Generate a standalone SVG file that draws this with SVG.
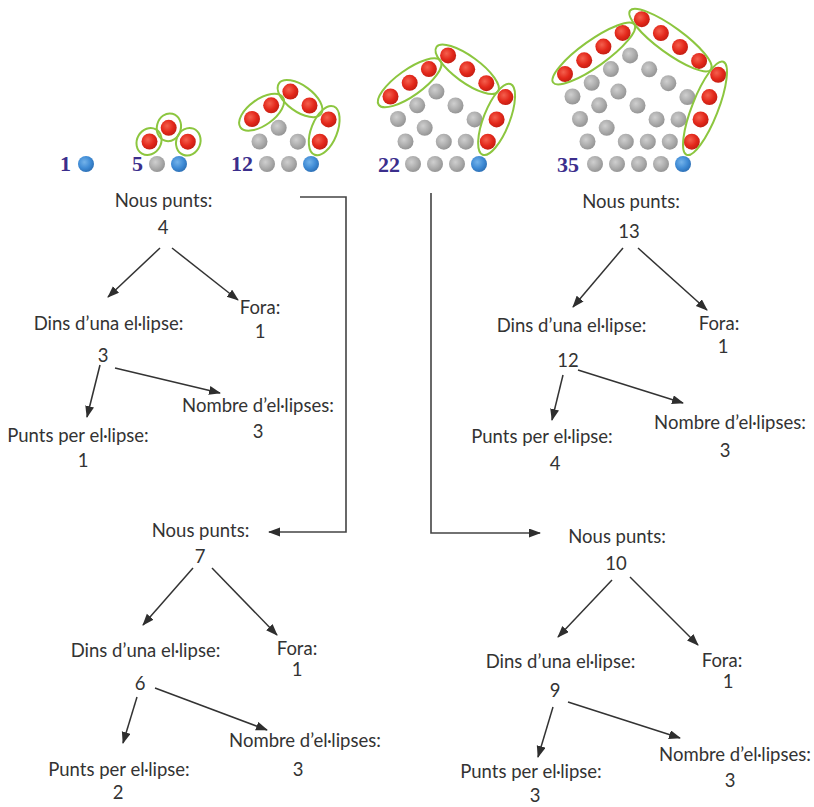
<svg xmlns="http://www.w3.org/2000/svg" width="814" height="807" viewBox="0 0 814 807">
<defs>
<radialGradient id="gr" cx="0.4" cy="0.38" r="0.65"><stop offset="0" stop-color="#f4604e"/><stop offset="0.6" stop-color="#e3281b"/><stop offset="1" stop-color="#c21d12"/></radialGradient>
<radialGradient id="gg" cx="0.4" cy="0.38" r="0.65"><stop offset="0" stop-color="#cfcfcf"/><stop offset="0.6" stop-color="#acacac"/><stop offset="1" stop-color="#939393"/></radialGradient>
<radialGradient id="gb" cx="0.4" cy="0.38" r="0.65"><stop offset="0" stop-color="#74b3ea"/><stop offset="0.6" stop-color="#3f8bd5"/><stop offset="1" stop-color="#2c6fb5"/></radialGradient>
<marker id="ah" markerUnits="userSpaceOnUse" markerWidth="12" markerHeight="10" refX="11" refY="4.5" orient="auto"><path d="M0,0 L12,4.5 L0,9 Z" fill="#2e2e2e"/></marker>
<style>
.r{fill:url(#gr)}.g{fill:url(#gg)}.b{fill:url(#gb)}
circle{r:8px}
.el{fill:none;stroke:#8cc63f;stroke-width:2}
.num{font-family:"Liberation Serif",serif;font-weight:bold;font-size:22px;fill:#3b2e8c;text-anchor:end}
.t{font-family:Lato,"Open Sans",sans-serif;font-size:18.5px;fill:#333;text-anchor:middle}
.c{fill:none;stroke:#333;stroke-width:1.5}
.k{fill:none;stroke:#444;stroke-width:1.6}
</style>
</defs>
<rect width="814" height="807" fill="#fff"/>

<g id="fig1">
<text class="num" x="71" y="171">1</text>
<circle class="b" cx="86" cy="164" r="8"/>
</g>

<g id="fig5">
<text class="num" x="143" y="171">5</text>
<circle class="g" cx="157" cy="164" r="8"/>
<circle class="b" cx="179" cy="164" r="8"/>
<circle class="r" cx="187.8" cy="141.7" r="8"/>
<circle class="r" cx="168.7" cy="127.8" r="8"/>
<circle class="r" cx="149.5" cy="141.5" r="8"/>
<ellipse class="el" cx="188.3" cy="141.7" rx="14" ry="12" transform="rotate(-68.5 188.3 141.7)"/>
<ellipse class="el" cx="168.9" cy="127.3" rx="14" ry="12" transform="rotate(-75 168.9 127.3)"/>
<ellipse class="el" cx="149" cy="141.5" rx="14" ry="12" transform="rotate(-60 149 141.5)"/>
</g>

<g id="fig12">
<text class="num" x="253" y="171">12</text>
<circle class="g" cx="267" cy="164" r="8"/>
<circle class="g" cx="289" cy="164" r="8"/>
<circle class="g" cx="297.8" cy="141.7" r="8"/>
<circle class="g" cx="278.7" cy="127.8" r="8"/>
<circle class="g" cx="259.5" cy="141.5" r="8"/>
<circle class="b" cx="311" cy="164" r="8"/>
<circle class="r" cx="319.8" cy="141.7" r="8"/>
<circle class="r" cx="328.6" cy="119.4" r="8"/>
<circle class="r" cx="309.5" cy="105.5" r="8"/>
<circle class="r" cx="290.4" cy="91.6" r="8"/>
<circle class="r" cx="271.2" cy="105.3" r="8"/>
<circle class="r" cx="252" cy="119" r="8"/>
<ellipse class="el" cx="324.2" cy="130.6" rx="26" ry="13" transform="rotate(-68.5 324.2 130.6)"/>
<ellipse class="el" cx="300" cy="98.6" rx="26" ry="13" transform="rotate(36 300 98.6)"/>
<ellipse class="el" cx="261.6" cy="112.2" rx="26" ry="13" transform="rotate(-35.5 261.6 112.2)"/>
</g>

<g id="fig22">
<text class="num" x="400" y="172">22</text>
<circle class="g" cx="413" cy="164" r="8"/>
<circle class="g" cx="435" cy="164" r="8"/>
<circle class="g" cx="443.8" cy="141.7" r="8"/>
<circle class="g" cx="424.7" cy="127.8" r="8"/>
<circle class="g" cx="405.5" cy="141.5" r="8"/>
<circle class="g" cx="457" cy="164" r="8"/>
<circle class="g" cx="465.8" cy="141.7" r="8"/>
<circle class="g" cx="474.6" cy="119.4" r="8"/>
<circle class="g" cx="455.5" cy="105.5" r="8"/>
<circle class="g" cx="436.4" cy="91.6" r="8"/>
<circle class="g" cx="417.2" cy="105.3" r="8"/>
<circle class="g" cx="398" cy="119" r="8"/>
<circle class="b" cx="479" cy="164" r="8"/>
<circle class="r" cx="487.8" cy="141.7" r="8"/>
<circle class="r" cx="496.6" cy="119.4" r="8"/>
<circle class="r" cx="505.4" cy="97.1" r="8"/>
<circle class="r" cx="486.3" cy="83.2" r="8"/>
<circle class="r" cx="467.2" cy="69.3" r="8"/>
<circle class="r" cx="448.1" cy="55.4" r="8"/>
<circle class="r" cx="428.9" cy="69.1" r="8"/>
<circle class="r" cx="409.7" cy="82.8" r="8"/>
<circle class="r" cx="390.5" cy="96.5" r="8"/>
<ellipse class="el" cx="496.6" cy="119.4" rx="38" ry="13" transform="rotate(-68.5 496.6 119.4)"/>
<ellipse class="el" cx="467.2" cy="69.3" rx="38" ry="13" transform="rotate(36 467.2 69.3)"/>
<ellipse class="el" cx="409.7" cy="82.8" rx="38" ry="13" transform="rotate(-35.5 409.7 82.8)"/>
</g>

<g id="fig35">
<text class="num" x="579" y="172">35</text>
<circle class="g" cx="595" cy="164" r="8"/>
<circle class="g" cx="617" cy="164" r="8"/>
<circle class="g" cx="625.8" cy="141.7" r="8"/>
<circle class="g" cx="606.7" cy="127.8" r="8"/>
<circle class="g" cx="587.5" cy="141.5" r="8"/>
<circle class="g" cx="639" cy="164" r="8"/>
<circle class="g" cx="647.8" cy="141.7" r="8"/>
<circle class="g" cx="656.6" cy="119.4" r="8"/>
<circle class="g" cx="637.5" cy="105.5" r="8"/>
<circle class="g" cx="618.4" cy="91.6" r="8"/>
<circle class="g" cx="599.2" cy="105.3" r="8"/>
<circle class="g" cx="580" cy="119" r="8"/>
<circle class="g" cx="661" cy="164" r="8"/>
<circle class="g" cx="669.8" cy="141.7" r="8"/>
<circle class="g" cx="678.6" cy="119.4" r="8"/>
<circle class="g" cx="687.4" cy="97.1" r="8"/>
<circle class="g" cx="668.3" cy="83.2" r="8"/>
<circle class="g" cx="649.2" cy="69.3" r="8"/>
<circle class="g" cx="630.1" cy="55.4" r="8"/>
<circle class="g" cx="610.9" cy="69.1" r="8"/>
<circle class="g" cx="591.7" cy="82.8" r="8"/>
<circle class="g" cx="572.5" cy="96.5" r="8"/>
<circle class="b" cx="683" cy="164" r="8"/>
<circle class="r" cx="691.8" cy="141.7" r="8"/>
<circle class="r" cx="700.6" cy="119.4" r="8"/>
<circle class="r" cx="709.4" cy="97.1" r="8"/>
<circle class="r" cx="718.2" cy="74.8" r="8"/>
<circle class="r" cx="699.1" cy="60.9" r="8"/>
<circle class="r" cx="680" cy="47" r="8"/>
<circle class="r" cx="660.9" cy="33.1" r="8"/>
<circle class="r" cx="641.8" cy="19.2" r="8"/>
<circle class="r" cx="622.6" cy="32.9" r="8"/>
<circle class="r" cx="603.4" cy="46.6" r="8"/>
<circle class="r" cx="584.2" cy="60.3" r="8"/>
<circle class="r" cx="565" cy="74" r="8"/>
<ellipse class="el" cx="705" cy="108.3" rx="50" ry="13" transform="rotate(-68.5 705 108.3)"/>
<ellipse class="el" cx="670.5" cy="40.1" rx="50" ry="13" transform="rotate(36 670.5 40.1)"/>
<ellipse class="el" cx="593.8" cy="53.5" rx="50" ry="13" transform="rotate(-35.5 593.8 53.5)"/>
</g>

<g id="connectors">
<polyline class="k" points="300,197 346,197 346,532 269,532" marker-end="url(#ah)"/>
<polyline class="k" points="431,193 431,533 540,533" marker-end="url(#ah)"/>
<line class="c" x1="160" y1="248" x2="108" y2="297" marker-end="url(#ah)"/>
<line class="c" x1="172" y1="248" x2="238" y2="300" marker-end="url(#ah)"/>
<line class="c" x1="100" y1="365" x2="87" y2="417" marker-end="url(#ah)"/>
<line class="c" x1="115" y1="368" x2="220" y2="393" marker-end="url(#ah)"/>
<line class="c" x1="193" y1="568" x2="143" y2="625" marker-end="url(#ah)"/>
<line class="c" x1="212" y1="568" x2="277" y2="635" marker-end="url(#ah)"/>
<line class="c" x1="137" y1="697" x2="123" y2="743" marker-end="url(#ah)"/>
<line class="c" x1="155" y1="688" x2="267" y2="730" marker-end="url(#ah)"/>
<line class="c" x1="623" y1="248" x2="573" y2="307" marker-end="url(#ah)"/>
<line class="c" x1="638" y1="248" x2="707" y2="310" marker-end="url(#ah)"/>
<line class="c" x1="563" y1="375" x2="552" y2="420" marker-end="url(#ah)"/>
<line class="c" x1="578" y1="370" x2="683" y2="403" marker-end="url(#ah)"/>
<line class="c" x1="612" y1="580" x2="558" y2="637" marker-end="url(#ah)"/>
<line class="c" x1="630" y1="577" x2="698" y2="645" marker-end="url(#ah)"/>
<line class="c" x1="553" y1="707" x2="538" y2="757" marker-end="url(#ah)"/>
<line class="c" x1="568" y1="702" x2="680" y2="738" marker-end="url(#ah)"/>
</g>

<g id="t1-nous"><text class="t" x="163.5" y="207">Nous punts:</text><text class="t" x="163" y="234">4</text></g>
<g id="t1-dins"><text class="t" x="108.5" y="330">Dins d’una el·lipse:</text><text class="t" x="103" y="362">3</text></g>
<g id="t1-fora"><text class="t" x="260" y="314">Fora:</text><text class="t" x="260" y="338">1</text></g>
<g id="t1-punts"><text class="t" x="78" y="442">Punts per el·lipse:</text><text class="t" x="83" y="467">1</text></g>
<g id="t1-nombre"><text class="t" x="258" y="412">Nombre d’el·lipses:</text><text class="t" x="258" y="438">3</text></g>

<g id="t2-nous"><text class="t" x="200.5" y="537">Nous punts:</text><text class="t" x="200" y="563">7</text></g>
<g id="t2-dins"><text class="t" x="145.5" y="657">Dins d’una el·lipse:</text><text class="t" x="140" y="690">6</text></g>
<g id="t2-fora"><text class="t" x="297" y="655">Fora:</text><text class="t" x="297" y="676">1</text></g>
<g id="t2-punts"><text class="t" x="119" y="776">Punts per el·lipse:</text><text class="t" x="118" y="799">2</text></g>
<g id="t2-nombre"><text class="t" x="305" y="747">Nombre d’el·lipses:</text><text class="t" x="298" y="776">3</text></g>

<g id="t3-nous"><text class="t" x="631" y="208">Nous punts:</text><text class="t" x="629" y="238">13</text></g>
<g id="t3-dins"><text class="t" x="571.5" y="332">Dins d’una el·lipse:</text><text class="t" x="568" y="367">12</text></g>
<g id="t3-fora"><text class="t" x="719" y="330">Fora:</text><text class="t" x="723" y="353">1</text></g>
<g id="t3-punts"><text class="t" x="542" y="443">Punts per el·lipse:</text><text class="t" x="555" y="470">4</text></g>
<g id="t3-nombre"><text class="t" x="730" y="429">Nombre d’el·lipses:</text><text class="t" x="725" y="457">3</text></g>

<g id="t4-nous"><text class="t" x="617" y="543">Nous punts:</text><text class="t" x="616" y="570">10</text></g>
<g id="t4-dins"><text class="t" x="560.5" y="668">Dins d’una el·lipse:</text><text class="t" x="555" y="697">9</text></g>
<g id="t4-fora"><text class="t" x="722" y="667">Fora:</text><text class="t" x="728" y="688">1</text></g>
<g id="t4-punts"><text class="t" x="531" y="778">Punts per el·lipse:</text><text class="t" x="535" y="802">3</text></g>
<g id="t4-nombre"><text class="t" x="735" y="761">Nombre d’el·lipses:</text><text class="t" x="730" y="787">3</text></g>
</svg>
